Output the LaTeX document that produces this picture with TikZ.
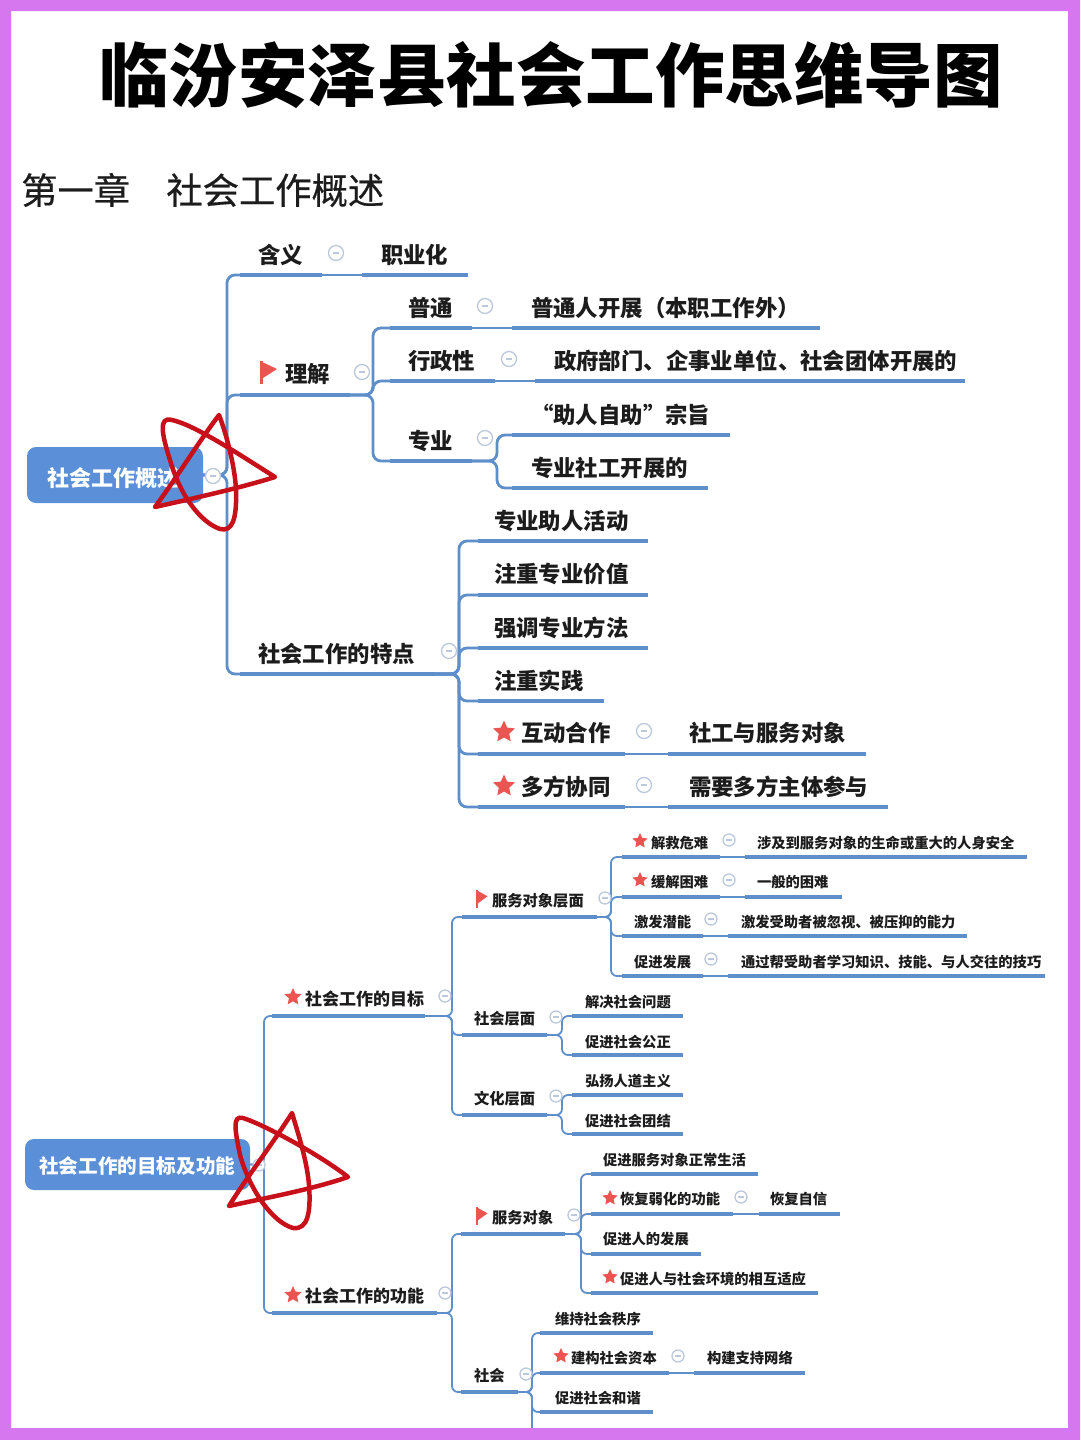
\documentclass[tikz,border=0pt]{standalone}
\usepackage{fontspec}
\setmainfont{Noto Sans CJK SC}
\newfontfamily\chapfont[FakeBold=0.5]{Noto Sans CJK SC}
\usetikzlibrary{shapes.geometric}
\definecolor{bandc}{HTML}{D677F0}
\definecolor{linec}{HTML}{5E8FCB}
\definecolor{rootc}{HTML}{5B90D8}
\definecolor{iconc}{HTML}{BCC9DC}
\definecolor{redc}{HTML}{EA5552}
\definecolor{starc}{HTML}{C8101A}
\definecolor{textc}{HTML}{1C1C1C}
\tikzset{
  topic/.style={inner sep=0pt,outer sep=0pt,align=left,text=textc},
  big/.style={topic,font=\fontsize{22.4}{24}\selectfont\bfseries},
  mid/.style={topic,font=\fontsize{17}{19}\selectfont\bfseries},
  midb/.style={topic,font=\fontsize{15.3}{17}\selectfont\bfseries},
  small/.style={topic,font=\fontsize{14.3}{16}\selectfont\bfseries},
  rootbox/.style={fill=rootc,rounded corners=9pt,text=white,inner sep=0pt,font=\bfseries},
  uline/.style={draw=linec,line width=3.8pt},
  ulinesm/.style={draw=linec,line width=3.2pt},
  conn/.style={draw=linec,line width=2.8pt,rounded corners=8pt},
  connsm/.style={draw=linec,line width=1.8pt,rounded corners=6pt},
  collapse/.style={circle,draw=iconc,fill=white,line width=1.3pt,minimum size=#1,inner sep=0pt,
    path picture={\draw[iconc,line width=1.3pt]
      ([xshift=-#1*0.22]path picture bounding box.center) -- ([xshift=#1*0.22]path picture bounding box.center);}},
  collapse/.default=15pt,
  starmark/.style={star,star points=5,star point ratio=2.1,fill=redc,inner sep=0pt,minimum size=#1},
  scribble/.style={draw=starc,line width=4.5pt,line join=round,line cap=round}
}
% style, name, x1, x2, underline y, text x, text centre y, text
\newcommand\tp[8]{%
  \pgfmathsetmacro\tpw{#4-#3}\pgfmathsetmacro\tpi{#6-#3}\pgfmathsetmacro\tph{2*(#5-#7)}%
  \node[#1,minimum width=\tpw pt,text width=\tpw pt,minimum height=\tph pt,anchor=south west] (#2) at (#3,#5) {\hspace*{\tpi pt}#8};%
  \draw[uline] (#2.south west) -- (#2.south east);}
\newcommand\tq[8]{%
  \pgfmathsetmacro\tpw{#4-#3}\pgfmathsetmacro\tpi{#6-#3}\pgfmathsetmacro\tph{2*(#5-#7-0.6)}%
  \node[#1,minimum width=\tpw pt,text width=\tpw pt,minimum height=\tph pt,anchor=south west] (#2) at (#3,#5) {\hspace*{\tpi pt}#8};%
  \draw[ulinesm] (#2.south west) -- (#2.south east);}
% from, to-node, trunk x
\newcommand\cn[3]{\coordinate (trk) at (#3,0);
  \draw[conn] (#1) -- (trk |- #1) -- (trk |- #2.south west) -- (#2.south west);}
\newcommand\cs[3]{\coordinate (trk) at (#3,0);
  \draw[connsm] (#1) -- (trk |- #1) -- (trk |- #2.south west) -- (#2.south west);}
% flag: left x, top y, x scale, y scale
\newcommand\flagmark[4]{\fill[redc] (#1,#2) -- ++(#3*17,#4*8) -- ++(-#3*14,#4*9) -- ++(-#3*3,0) -- cycle;
  \fill[redc] (#1,#2) rectangle ++(#3*3,#4*23);}
\begin{document}
\begin{tikzpicture}[x=1pt,y=-1pt]
\useasboundingbox (0,0) rectangle (1080,1440);
\fill[white] (0,0) rectangle (1080,1440);

\node[inner sep=0pt,font=\fontsize{69.5}{72}\selectfont\bfseries,text=black] (title) at (551,75) {临汾安泽县社会工作思维导图};
\node[inner sep=0pt,anchor=west,font=\fontsize{36.3}{38}\chapfont,text=textc] (chap) at (21,190) {第一章　社会工作概述};

% ---------- map 1
\node[rootbox,minimum width=176pt,minimum height=56pt] (r1) at (115,475) {};
\node[inner sep=0pt,text=white,font=\fontsize{22}{24}\selectfont\bfseries,anchor=west] (r1t) at (47,478) {社会工作概述};

\tp{big}{a1}{240}{322}{275}{258}{255}{含义}
\tp{big}{a1c}{362}{468}{275}{381}{255}{职业化}
\tp{big}{a2}{240}{350}{395}{285}{374}{理解}
\tp{big}{b1}{390}{472}{328}{408}{308}{普通}
\tp{big}{b1c}{512}{820}{328}{531}{308}{普通人开展（本职工作外）}
\tp{big}{b2}{390}{495}{381}{408}{361}{行政性}
\tp{big}{b2c}{535}{965}{381}{554}{361}{政府部门、企事业单位、社会团体开展的}
\tp{big}{b3}{390}{472}{461}{408}{441}{专业}
\tp{big}{b3a}{512}{730}{435}{531}{415}{“助人自助”宗旨}
\tp{big}{b3b}{512}{708}{488}{531}{468}{专业社工开展的}
\tp{big}{a3}{240}{435}{674}{258}{654}{社会工作的特点}
\tp{big}{c1}{478}{648}{541}{494}{521}{专业助人活动}
\tp{big}{c2}{478}{648}{595}{494}{574}{注重专业价值}
\tp{big}{c3}{478}{648}{648}{494}{628}{强调专业方法}
\tp{big}{c4}{478}{604}{701}{494}{681}{注重实践}
\tp{big}{c5}{478}{625}{754}{521}{733}{互动合作}
\tp{big}{c5c}{668}{866}{754}{689}{733}{社工与服务对象}
\tp{big}{c6}{478}{625}{807}{521}{787}{多方协同}
\tp{big}{c6c}{668}{888}{807}{689}{787}{需要多方主体参与}

\cn{r1.east}{a1}{227}
\cn{r1.east}{a2}{227}
\cn{r1.east}{a3}{227}
\draw[linec,line width=1.8pt] (a1.south east) -- (a1c.south west);
\cn{a2.south east}{b1}{373}
\cn{a2.south east}{b2}{373}
\cn{a2.south east}{b3}{373}
\draw[linec,line width=1.8pt] (b1.south east) -- (b1c.south west);
\draw[linec,line width=1.8pt] (b2.south east) -- (b2c.south west);
\cn{b3.south east}{b3a}{497}
\cn{b3.south east}{b3b}{497}
\foreach \k in {c1,c2,c3,c4,c5,c6}{\cn{a3.south east}{\k}{459}}
\draw[linec,line width=1.8pt] (c5.south east) -- (c5c.south west);
\draw[linec,line width=1.8pt] (c6.south east) -- (c6c.south west);

\node[collapse] (i1) at (336,253) {};
\node[collapse] (i2) at (362,372) {};
\node[collapse] (i3) at (485,306) {};
\node[collapse] (i4) at (509,359) {};
\node[collapse] (i5) at (485,438) {};
\node[collapse] (i6) at (449,651) {};
\node[collapse] (i7) at (644,731) {};
\node[collapse] (i8) at (644,785) {};
\node[collapse] (i0) at (213,476) {};
\flagmark{260}{361}{1}{1}
\node[starmark=23pt] (s1) at (504,732) {};
\node[starmark=23pt] (s2) at (504,786) {};

% ---------- map 2
\node[rootbox,minimum width=225pt,minimum height=51pt] (r2) at (137.5,1164.5) {};
\node[inner sep=0pt,text=white,font=\fontsize{19.6}{21}\selectfont\bfseries,anchor=west] (r2t) at (39,1166) {社会工作的目标及功能};

\tq{mid}{d}{272}{425}{1016}{305}{998}{社会工作的目标}
\tq{midb}{e1}{462}{597}{917}{492}{900}{服务对象层面}
\tq{small}{f1}{622}{720}{857}{651}{842}{解救危难}
\tq{small}{f1c}{745}{1027}{857}{757}{842}{涉及到服务对象的生命或重大的人身安全}
\tq{small}{f2}{622}{720}{897}{651}{881}{缓解困难}
\tq{small}{f2c}{745}{842}{897}{757}{881}{一般的困难}
\tq{small}{f3}{622}{703}{936}{634}{921}{激发潜能}
\tq{small}{f3c}{728}{967}{936}{741}{921}{激发受助者被忽视、被压抑的能力}
\tq{small}{f4}{622}{703}{976}{634}{961}{促进发展}
\tq{small}{f4c}{728}{1045}{976}{741}{961}{通过帮受助者学习知识、技能、与人交往的技巧}
\tq{midb}{e2}{462}{547}{1035}{474}{1018}{社会层面}
\tq{small}{g1}{572}{683}{1016}{585}{1001}{解决社会问题}
\tq{small}{g2}{572}{683}{1055}{585}{1041}{促进社会公正}
\tq{midb}{e3}{462}{547}{1115}{474}{1098}{文化层面}
\tq{small}{h1}{572}{683}{1095}{585}{1080}{弘扬人道主义}
\tq{small}{h2}{572}{683}{1134}{585}{1120}{促进社会团结}
\tq{mid}{k}{272}{437}{1313}{305}{1295}{社会工作的功能}
\tq{midb}{l1}{461}{565}{1234}{492}{1217}{服务对象}
\tq{small}{m1}{591}{758}{1174}{603}{1159}{促进服务对象正常生活}
\tq{small}{m2}{591}{733}{1214}{620}{1198}{恢复弱化的功能}
\tq{small}{m2c}{759}{840}{1214}{770}{1198}{恢复自信}
\tq{small}{m3}{591}{701}{1254}{603}{1238}{促进人的发展}
\tq{small}{m4}{591}{818}{1293}{620}{1278}{促进人与社会环境的相互适应}
\tq{midb}{l2}{461}{518}{1392}{474}{1375}{社会}
\tq{small}{n1}{540}{653}{1333}{555}{1318}{维持社会秩序}
\tq{small}{n2}{540}{669}{1373}{571}{1357}{建构社会资本}
\tq{small}{n2c}{694}{805}{1373}{707}{1357}{构建支持网络}
\tq{small}{n3}{540}{653}{1412}{555}{1397}{促进社会和谐}

\cs{r2.east}{d}{264}
\cs{r2.east}{k}{264}
\foreach \k in {e1,e2,e3}{\cs{d.south east}{\k}{452}}
\foreach \k in {f1,f2,f3,f4}{\cs{e1.south east}{\k}{611}}
\foreach \k in {g1,g2}{\cs{e2.south east}{\k}{562}}
\foreach \k in {h1,h2}{\cs{e3.south east}{\k}{562}}
\foreach \k in {l1,l2}{\cs{k.south east}{\k}{452}}
\foreach \k in {m1,m2,m3,m4}{\cs{l1.south east}{\k}{581}}
\foreach \k in {n1,n2,n3}{\cs{l2.south east}{\k}{532}}
\coordinate (offpage) at (532,1440);
\draw[connsm] (l2.south east) -- (offpage |- l2.south east) -- (offpage);
\foreach \p/\q in {f1/f1c,f2/f2c,f3/f3c,f4/f4c,m2/m2c,n2/n2c}{\draw[linec,line width=1.2pt] (\p.south east) -- (\q.south west);}

\foreach \n/\x/\y in {j1/445/996,j2/605/898,j3/729/840,j4/729/880,j5/711/919,j6/711/959,j7/556/1017,j8/556/1096,j9/445/1293,j10/574/1215,j11/741/1197,j12/526/1374,j13/678/1356,j14/259/1165}{
  \node[collapse=12pt] (\n) at (\x,\y) {};}

\flagmark{476}{890}{0.68}{0.78}
\flagmark{476}{1207}{0.68}{0.78}
\node[starmark=18pt] (t1) at (293,997) {};
\node[starmark=18pt] (t2) at (293,1295) {};
\foreach \n/\x/\y in {u1/640/841,u2/640/880,u3/610/1198,u4/610/1277,u5/561/1356}{
  \node[starmark=16pt] (\n) at (\x,\y) {};}

% hand-drawn red stars
\draw[scribble] (155,507) .. controls (195,498) and (240,488) .. (275,477)
  .. controls (240,455) and (195,425) .. (172,420)
  .. controls (158,416) and (162,435) .. (170,460)
  .. controls (180,495) and (200,522) .. (220,529)
  .. controls (232,532) and (237,520) .. (236,490)
  .. controls (235,465) and (225,430) .. (219,415)
  .. controls (200,440) and (175,480) .. (155,507) -- cycle;
\draw[scribble] (229,1206) .. controls (265,1198) and (310,1190) .. (348,1177)
  .. controls (320,1155) and (265,1125) .. (243,1118)
  .. controls (232,1115) and (235,1130) .. (240,1155)
  .. controls (250,1190) and (272,1222) .. (293,1228)
  .. controls (308,1230) and (311,1212) .. (309,1185)
  .. controls (307,1160) and (297,1130) .. (292,1113)
  .. controls (275,1140) and (245,1180) .. (229,1206) -- cycle;

% frame
\fill[bandc,even odd rule] (0,0) rectangle (1080,1440) (11,11) rectangle (1068,1428);
\end{tikzpicture}
\end{document}
